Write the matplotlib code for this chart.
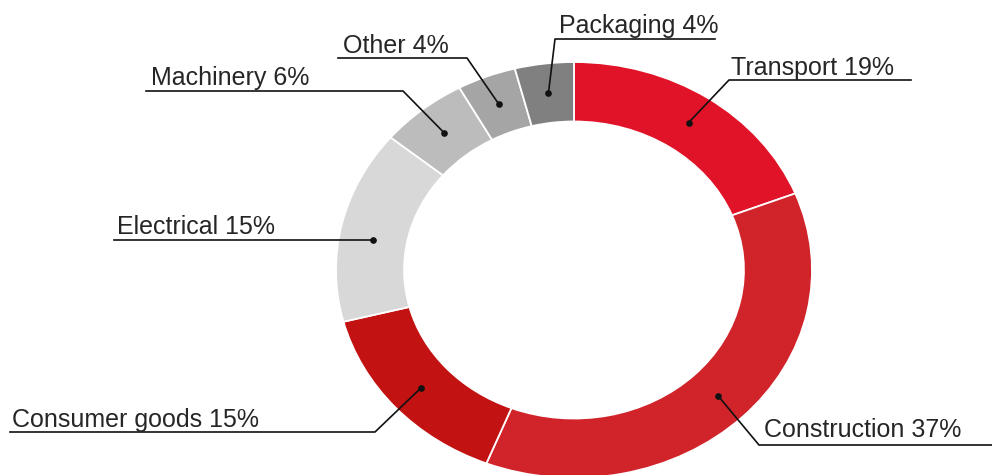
import matplotlib
matplotlib.use("Agg")
import matplotlib.pyplot as plt
import matplotlib.transforms as mtransforms
import numpy as np

# end-use shares, clockwise from 12 o'clock
sectors = ["Transport", "Construction", "Consumer goods", "Electrical",
           "Machinery", "Other", "Packaging"]
shares = [19, 37, 15, 15, 6, 4, 4]
colours = ["#e01328", "#d0232a", "#c21212", "#d8d8d8",
           "#bcbcbc", "#a5a5a5", "#808080"]

# label layout in image pixels (origin top-left):
# text left, text baseline, rule start, rule end, elbow x
label_layout = {
    "Transport":      (731, 75, 729, 911, 729),
    "Construction":   (764, 437, 759, 992, 759),
    "Consumer goods": (12, 427, 10, 375, 375),
    "Electrical":     (117, 234, 114, None, None),
    "Machinery":      (151, 85, 146, 403, 403),
    "Other":          (343, 53, 338, 467, 467),
    "Packaging":      (559, 33, 555, 715, 555),
}
line_y = {"Transport": 80, "Construction": 445, "Consumer goods": 432,
          "Electrical": 240, "Machinery": 91, "Other": 58, "Packaging": 39}

W, H = 992, 475
fig = plt.figure(figsize=(W / 100, H / 100), dpi=100)

# ring spans x 336..812, y 62..478 (slightly squashed vertically)
cx, cy, rx, ry = 574, 270, 238, 208
ring = 0.286
ax = fig.add_axes([(cx - rx) / W, (H - (cy + ry)) / H, 2 * rx / W, 2 * ry / H])
wedges, _ = ax.pie(shares, colors=colours, startangle=90, counterclock=False,
                   radius=1.0,
                   wedgeprops=dict(width=ring, edgecolor="white", linewidth=1.3))
ax.set_aspect("auto")
ax.set_xlim(-1, 1)
ax.set_ylim(-1, 1)
ax.axis("off")

pix = mtransforms.Affine2D().scale(1, -1).translate(0, H)
ink = "#111111"
r_mid = 1 - ring / 2

for w, name, pct in zip(wedges, sectors, shares):
    tx, tb, x0, x1, ex = label_layout[name]
    ly = line_y[name]

    mid = np.deg2rad((w.theta1 + w.theta2) / 2)
    dx, dy = r_mid * np.cos(mid), r_mid * np.sin(mid)
    if ex is None:
        # straight rule: slide the anchor along the ring to the rule's height
        dy = (cy - ly) / ry
        dx = -np.sqrt(r_mid ** 2 - dy ** 2)
    ax.plot(dx, dy, "o", color=ink, markersize=3.8, clip_on=False, zorder=5)
    px, py = ax.transData.transform((dx, dy))
    py = H - py

    if ex is None:
        xs, ys = [x0, px], [ly, py]
    elif ex <= x0 + 1:
        xs, ys = [px, ex, x1], [py, ly, ly]
    else:
        xs, ys = [x0, ex, px], [ly, ly, py]
    fig.add_artist(plt.Line2D(xs, ys, transform=pix, color=ink, lw=1.2))
    fig.text(tx, tb, f"{name} {pct}%", transform=pix, ha="left", va="baseline",
             fontsize=18, family="Liberation Sans", color="#262626")

fig.savefig("out.png", dpi=100, facecolor="white")
